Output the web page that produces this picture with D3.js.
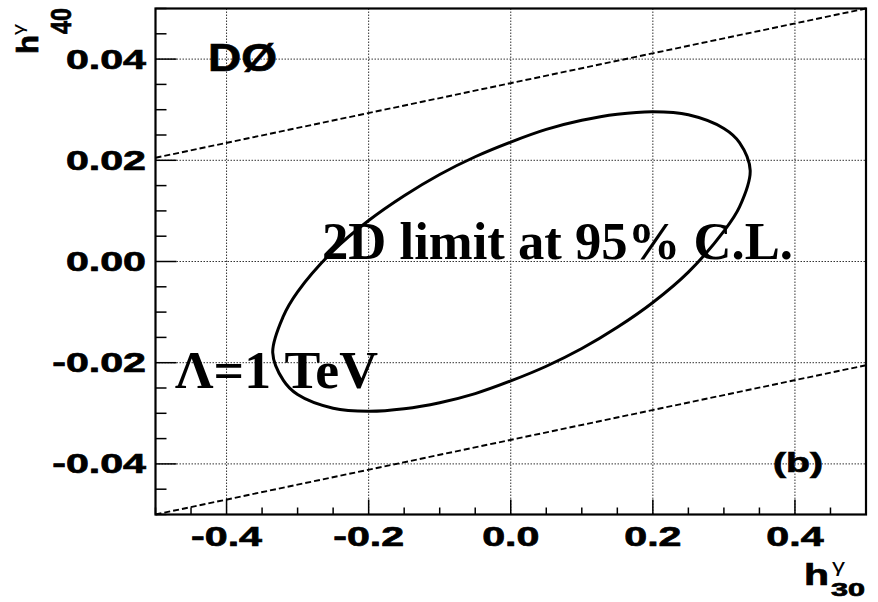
<!DOCTYPE html>
<html>
<head>
<meta charset="utf-8">
<script src="https://cdn.jsdelivr.net/npm/d3@7"></script>
<style>
  html, body { margin: 0; padding: 0; background: #fff; }
  svg { display: block; }
</style>
</head>
<body>
<svg id="chart" width="878" height="602"></svg>
<script>
// ---- data ----
const xDomain = [-0.5, 0.5];
const yDomain = [-0.05, 0.05];
const xMajorTicks = [-0.4, -0.2, 0.0, 0.2, 0.4];
const xTickLabels = ["-0.4", "-0.2", "0.0", "0.2", "0.4"];
const yMajorTicks = [-0.04, -0.02, 0.0, 0.02, 0.04];
const yTickLabels = ["-0.04", "-0.02", "0.00", "0.02", "0.04"];
const xMinorStep = 0.05;
const yMinorStep = 0.005;

// 2D 95% C.L. contour (h30, h40)
const contourX = [-0.335, -0.32, -0.30, -0.25, -0.20, -0.15, -0.10, -0.05, 0.00, 0.05, 0.10, 0.15, 0.20, 0.25, 0.30, 0.322,
                  0.337, 0.322, 0.30, 0.25, 0.20, 0.15, 0.10, 0.05, 0.00, -0.05, -0.10, -0.15, -0.20, -0.25, -0.30, -0.32];
const contourY = [-0.0180, -0.0235, -0.0263, -0.0290, -0.0296, -0.0291, -0.0279, -0.0261, -0.0236, -0.0207, -0.0172, -0.0130, -0.0081, -0.0021, 0.0060, 0.0108,
                  0.0180, 0.0235, 0.0263, 0.0290, 0.0296, 0.0291, 0.0279, 0.0261, 0.0236, 0.0207, 0.0172, 0.0130, 0.0081, 0.0021, -0.0060, -0.0108];

// dashed bounds
const boundX = [-0.5, 0.5];
const upperBoundY = [0.0205, 0.05];
const lowerBoundY = [-0.05, -0.0205];

// ---- layout ----
const L = 155.5, R = 866, T = 8.5, B = 514.5;
const svg = d3.select("#chart");
const x = d3.scaleLinear().domain(xDomain).range([L, R]);
const y = d3.scaleLinear().domain(yDomain).range([B, T]);
const SANS = "'Liberation Sans', Arial, Helvetica, sans-serif";
const SERIF = "'Liberation Serif', 'Times New Roman', serif";
const STRETCH = 1.47;

// gridlines
const grid = svg.append("g");
grid.selectAll("line.gx").data(xMajorTicks).enter().append("line")
  .attr("x1", d => x(d)).attr("x2", d => x(d)).attr("y1", T).attr("y2", B)
  .attr("stroke", "#333").attr("stroke-width", 1).attr("stroke-dasharray", "1.5,1.5");
grid.selectAll("line.gy").data(yMajorTicks).enter().append("line")
  .attr("y1", d => y(d)).attr("y2", d => y(d)).attr("x1", L).attr("x2", R)
  .attr("stroke", "#333").attr("stroke-width", 1).attr("stroke-dasharray", "1.5,1.5");

// ticks (inside)
const xMinor = d3.range(Math.round((xDomain[1] - xDomain[0]) / xMinorStep) + 1).map(i => +(xDomain[0] + i * xMinorStep).toFixed(3));
const yMinor = d3.range(Math.round((yDomain[1] - yDomain[0]) / yMinorStep) + 1).map(i => +(yDomain[0] + i * yMinorStep).toFixed(4));
const isMajorX = v => xMajorTicks.some(m => Math.abs(m - v) < 1e-6);
const isMajorY = v => yMajorTicks.some(m => Math.abs(m - v) < 1e-7);
const ticks = svg.append("g").attr("stroke", "#000").attr("stroke-width", 1.5);
ticks.selectAll("line.tx").data(xMinor).enter().append("line")
  .attr("x1", d => x(d)).attr("x2", d => x(d)).attr("y1", B).attr("y2", d => B - (isMajorX(d) ? 15 : 7));
ticks.selectAll("line.ty").data(yMinor).enter().append("line")
  .attr("y1", d => y(d)).attr("y2", d => y(d)).attr("x1", L).attr("x2", d => L + (isMajorY(d) ? 21 : 11));

// dashed bounds
const line = d3.line().x(d => x(d[0])).y(d => y(d[1]));
[upperBoundY, lowerBoundY].forEach(ys => {
  svg.append("path").datum(boundX.map((v, i) => [v, ys[i]]))
    .attr("d", line).attr("fill", "none").attr("stroke", "#000")
    .attr("stroke-width", 1.9).attr("stroke-dasharray", "6,3");
});

// contour
svg.append("path").datum(contourX.map((v, i) => [v, contourY[i]]))
  .attr("d", d3.line().x(d => x(d[0])).y(d => y(d[1])).curve(d3.curveCatmullRomClosed))
  .attr("fill", "none").attr("stroke", "#000").attr("stroke-width", 3);

// frame
svg.append("rect").attr("x", L).attr("y", T).attr("width", R - L).attr("height", B - T)
  .attr("fill", "none").attr("stroke", "#000").attr("stroke-width", 2.2);

// tick labels
const boldStroke = sel => sel.attr("stroke", "#000").attr("stroke-width", 0.7);
svg.append("g").selectAll("text").data(xMajorTicks).enter().append("text")
  .attr("transform", d => `translate(${x(d)},${B + 31}) scale(${STRETCH},1)`)
  .attr("text-anchor", "middle").attr("font-family", SANS).attr("font-weight", "bold")
  .attr("font-size", 28).call(boldStroke).text((d, i) => xTickLabels[i]);
svg.append("g").selectAll("text").data(yMajorTicks).enter().append("text")
  .attr("transform", d => `translate(146,${y(d) + 9.5}) scale(${STRETCH},1)`)
  .attr("text-anchor", "end").attr("font-family", SANS).attr("font-weight", "bold")
  .attr("font-size", 28).call(boldStroke).text((d, i) => yTickLabels[i]);

// axis titles
const xt = svg.append("g");
xt.append("text").attr("x", 804).attr("y", 585).attr("font-family", SANS).attr("font-weight", "bold")
  .attr("font-size", 29).attr("textLength", 25).attr("lengthAdjust", "spacingAndGlyphs").call(boldStroke).text("h");
xt.append("text").attr("x", 832).attr("y", 572).attr("font-family", SANS)
  .attr("font-size", 18).attr("textLength", 13).attr("lengthAdjust", "spacingAndGlyphs").text("γ");
xt.append("text").attr("x", 831).attr("y", 596).attr("font-family", SANS).attr("font-weight", "bold")
  .attr("font-size", 19).attr("textLength", 34).attr("lengthAdjust", "spacingAndGlyphs").call(boldStroke).text("30");

const yt = svg.append("g").attr("transform", "translate(38,54) rotate(-90)");
yt.append("text").attr("x", 0).attr("y", 0).attr("font-family", SANS).attr("font-weight", "bold")
  .attr("font-size", 30).attr("textLength", 19).attr("lengthAdjust", "spacingAndGlyphs").call(boldStroke).text("h");
yt.append("text").attr("x", 19).attr("y", -14).attr("font-family", SANS)
  .attr("font-size", 16).attr("textLength", 11).attr("lengthAdjust", "spacingAndGlyphs").text("γ");
yt.append("text").attr("x", 20).attr("y", 33).attr("font-family", SANS).attr("font-weight", "bold")
  .attr("font-size", 30).attr("textLength", 26).attr("lengthAdjust", "spacingAndGlyphs").call(boldStroke).text("40");

// annotations
svg.append("text").attr("x", 208).attr("y", 71).attr("font-family", SANS).attr("font-weight", "bold")
  .attr("font-size", 38).attr("textLength", 69).attr("lengthAdjust", "spacingAndGlyphs").call(boldStroke).text("DØ");
svg.append("text").attr("x", 773).attr("y", 472).attr("font-family", SANS).attr("font-weight", "bold")
  .attr("font-size", 27).attr("textLength", 50).attr("lengthAdjust", "spacingAndGlyphs").call(boldStroke).text("(b)");
svg.append("text").attr("x", 322).attr("y", 259).attr("font-family", SERIF).attr("font-weight", "bold")
  .attr("font-size", 53).attr("textLength", 471).attr("lengthAdjust", "spacingAndGlyphs").text("2D limit at 95% C.L.");
svg.append("text").attr("x", 175).attr("y", 388).attr("font-family", SERIF).attr("font-weight", "bold")
  .attr("font-size", 53).attr("textLength", 203).attr("lengthAdjust", "spacingAndGlyphs").text("Λ=1 TeV");
</script>
</body>
</html>
